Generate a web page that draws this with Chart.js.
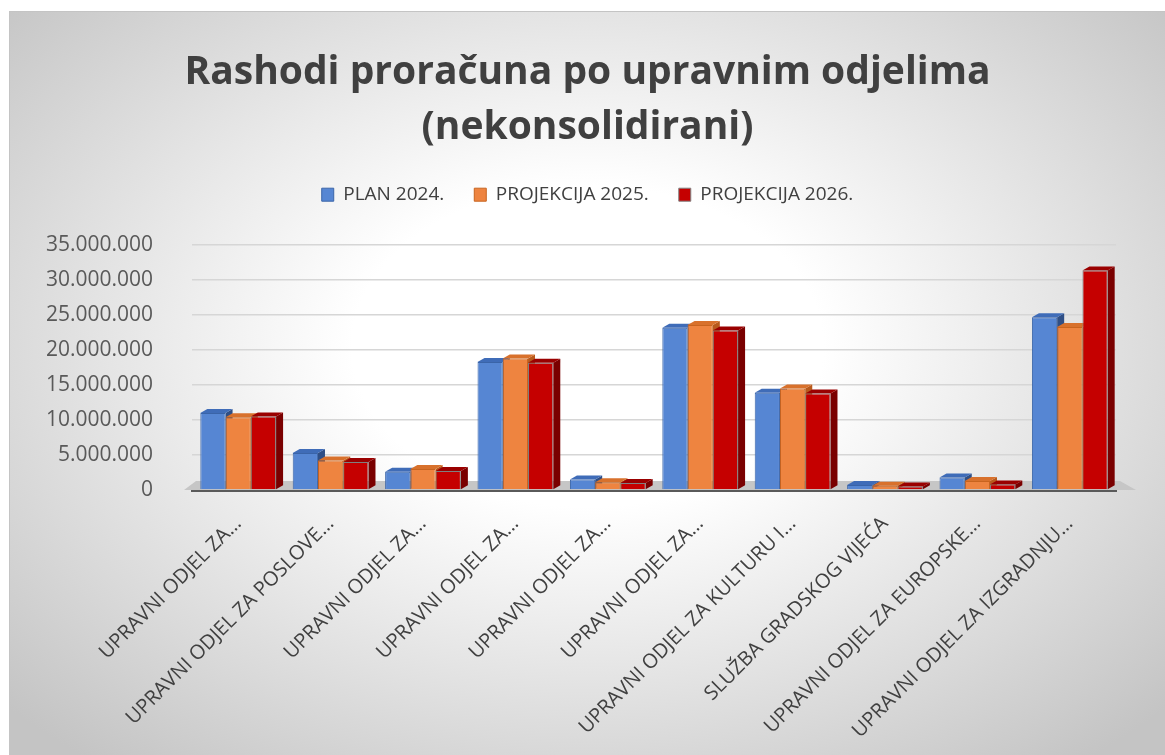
<!DOCTYPE html>
<html lang="hr">
<head>
  <meta charset="UTF-8">
  <title>Rashodi proračuna po upravnim odjelima</title>
  <script src="https://cdn.jsdelivr.net/npm/chart.js"></script>
  <style>
    body {
      margin: 0;
      background: #fff;
      font-family: "Open Sans", Arial, sans-serif;
    }
    #okvir {
      position: absolute;
      left: 9px;
      top: 11px;
      width: 1156px;
      height: 744px;
      border-top: 1px solid #c4c4c4;
      border-left: 1px solid #c4c4c4;
      box-sizing: border-box;
      background: radial-gradient(ellipse 68% 72% at 50% 45%, #ffffff 30%, #c4c4c4 100%);
    }
  </style>
</head>
<body>
  <div id="okvir">
    <canvas id="rashodi"></canvas>
  </div>

  <script>
    const odjeli = [
      "UPRAVNI ODJEL ZA…",
      "UPRAVNI ODJEL ZA POSLOVE…",
      "UPRAVNI ODJEL ZA…",
      "UPRAVNI ODJEL ZA…",
      "UPRAVNI ODJEL ZA…",
      "UPRAVNI ODJEL ZA…",
      "UPRAVNI ODJEL ZA KULTURU I…",
      "SLUŽBA GRADSKOG VIJEĆA",
      "UPRAVNI ODJEL ZA EUROPSKE…",
      "UPRAVNI ODJEL ZA IZGRADNJU…"
    ];
    const plan2024 = [11000000, 5300000, 2600000, 18300000, 1500000, 23200000, 13900000, 700000, 1800000, 24700000];
    const projekcija2025 = [10400000, 4200000, 3000000, 18800000, 1100000, 23600000, 14500000, 600000, 1300000, 23300000];
    const projekcija2026 = [10500000, 4000000, 2700000, 18200000, 1000000, 22800000, 13800000, 500000, 800000, 31400000];
    const yTicks = [0, 5000000, 10000000, 15000000, 20000000, 25000000, 30000000, 35000000];

    function tocke(v) {
      return String(v).replace(/\B(?=(\d{3})+(?!\d))/g, ".");
    }

    // bocne i gornje plohe stupaca, da izgleda malo 3D
    const dubina = {
      id: "dubina",
      beforeDatasetsDraw(chart) {
        const ctx = chart.ctx;
        const a = chart.chartArea;
        const dx = 7, dy = 4;
        ctx.save();
        ctx.fillStyle = "#c6c6c6";
        ctx.beginPath();
        ctx.moveTo(a.left - 8, a.bottom);
        ctx.lineTo(a.left + 4, a.bottom - 9);
        ctx.lineTo(a.right + 4, a.bottom - 9);
        ctx.lineTo(a.right + 20, a.bottom);
        ctx.closePath();
        ctx.fill();

        const boje = [
          { strana: "#2f4f86", vrh: "#3f6cb8" },
          { strana: "#b85a1c", vrh: "#d8712c" },
          { strana: "#7a0000", vrh: "#9a0000" }
        ];
        chart.getSortedVisibleDatasetMetas().forEach((meta, i) => {
          meta.data.forEach(bar => {
            const l = bar.x - bar.width / 2, r = bar.x + bar.width / 2;
            ctx.fillStyle = boje[i].strana;
            ctx.beginPath();
            ctx.moveTo(r, bar.y);
            ctx.lineTo(r + dx, bar.y - dy);
            ctx.lineTo(r + dx, bar.base - dy);
            ctx.lineTo(r, bar.base);
            ctx.closePath();
            ctx.fill();
            ctx.fillStyle = boje[i].vrh;
            ctx.beginPath();
            ctx.moveTo(l, bar.y);
            ctx.lineTo(l + dx, bar.y - dy);
            ctx.lineTo(r + dx, bar.y - dy);
            ctx.lineTo(r, bar.y);
            ctx.closePath();
            ctx.fill();
          });
        });
        ctx.restore();
      }
    };

    new Chart(document.getElementById("rashodi"), {
      type: "bar",
      data: {
        labels: odjeli,
        datasets: [
          { label: "PLAN 2024.", data: plan2024, backgroundColor: "#5686d3", borderColor: "#3a64a8", borderWidth: 1 },
          { label: "PROJEKCIJA 2025.", data: projekcija2025, backgroundColor: "#ee8440", borderColor: "#c8641f", borderWidth: 1 },
          { label: "PROJEKCIJA 2026.", data: projekcija2026, backgroundColor: "#c50000", borderColor: "#808080", borderWidth: 1 }
        ]
      },
      options: {
        responsive: true,
        maintainAspectRatio: false,
        animation: false,
        categoryPercentage: 0.82,
        barPercentage: 1.0,
        layout: { padding: { top: 10, right: 0, bottom: 0, left: 0 } },
        plugins: {
          title: {
            display: true,
            text: ["Rashodi proračuna po upravnim odjelima", "(nekonsolidirani)"],
            color: "#404040",
            font: { family: "Open Sans", size: 39, weight: "bold", lineHeight: 1.4 },
            padding: { top: 24, bottom: 0 }
          },
          legend: {
            position: "top",
            labels: {
              color: "#404040",
              font: { family: "Open Sans", size: 19 },
              boxWidth: 12,
              boxHeight: 13,
              padding: 30
            }
          },
          subtitle: {
            display: true,
            text: " ",
            weight: 500,
            font: { size: 1, lineHeight: 1 },
            padding: { top: 30, bottom: 0 }
          },
          tooltip: { enabled: false }
        },
        scales: {
          x: {
            grid: { display: false },
            border: { display: true, color: "#5a5a5a", width: 3 },
            ticks: {
              color: "#404040",
              font: { family: "Open Sans", size: 20 },
              maxRotation: 45,
              minRotation: 45,
              autoSkip: false,
              padding: 14
            },
            afterFit(s) {
              s.height = 265;
              s.paddingRight = 49;
            }
          },
          y: {
            min: 0,
            max: 35000000,
            afterBuildTicks(s) { s.ticks = yTicks.map(v => ({ value: v })); },
            grid: { color: "#d6d6d6", lineWidth: 1.5, drawTicks: false },
            border: { display: false },
            ticks: {
              color: "#595959",
              font: { family: "Open Sans", size: 21 },
              padding: 39,
              callback: v => tocke(v)
            },
            afterFit(s) { s.width = 182; }
          }
        }
      },
      plugins: [dubina]
    });
  </script>
</body>
</html>
